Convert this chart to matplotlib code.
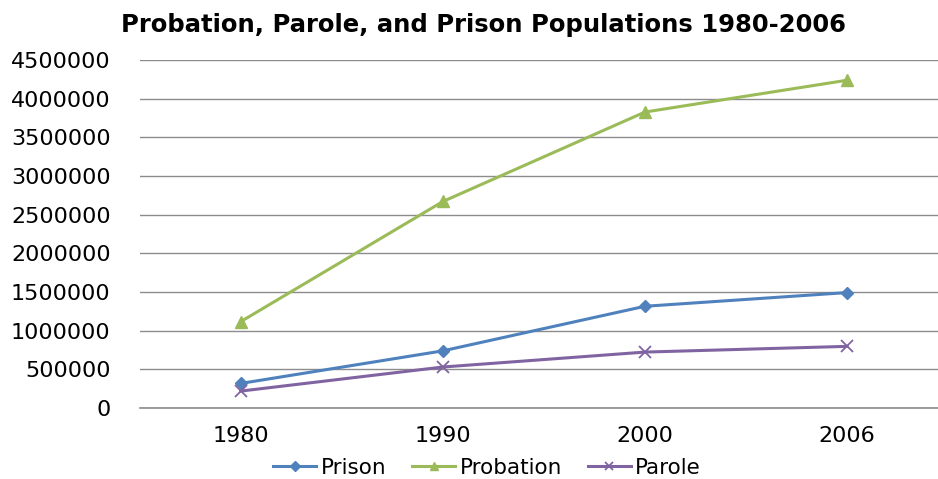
import matplotlib.pyplot as plt

# populations by year
years = ['1980', '1990', '2000', '2006']
prison = [319000, 740000, 1316000, 1493000]
probation = [1118000, 2670000, 3826000, 4237000]
parole = [220000, 531000, 724000, 798000]

plt.rcParams['font.family'] = ['DejaVu Sans']

fig = plt.figure(figsize=(9.38, 4.79), dpi=100)
ax = fig.add_axes([0.149, 0.148, 0.851, 0.727])

x = range(len(years))
ax.plot(x, prison, color='#4F81BD', lw=2.2, marker='D', ms=6, label='Prison')
ax.plot(x, probation, color='#9BBB59', lw=2.2, marker='^', ms=8, label='Probation')
ax.plot(x, parole, color='#8064A2', lw=2.2, marker='x', ms=8, mew=1.3, label='Parole')

ax.set_xlim(-0.5, 3.45)
ax.set_ylim(0, 4500000)
ax.set_yticks(range(0, 4500001, 500000))
ax.set_yticklabels([str(v) for v in range(0, 4500001, 500000)])
ax.set_xticks(list(x))
ax.set_xticklabels(years)
ax.tick_params(length=0, labelsize=16, pad=21)
ax.tick_params(axis='x', pad=13)
ax.grid(axis='y', color='#8C8C8C', lw=1)
ax.axhline(0, color='#8C8C8C', lw=1.2, clip_on=False, zorder=0)
ax.set_axisbelow(True)
for s in ax.spines.values():
    s.set_visible(False)

ax.set_title('Probation, Parole, and Prison Populations 1980-2006',
             fontsize=17.5, fontweight='bold', pad=20, x=0.43)

ax.legend(loc='center', bbox_to_anchor=(0.435, -0.172), ncol=3, frameon=False,
          fontsize=15.5, handlelength=2.0, handletextpad=0.2, columnspacing=1.2,
          borderpad=0, markerscale=0.8)

fig.savefig('out.png', dpi=100)
